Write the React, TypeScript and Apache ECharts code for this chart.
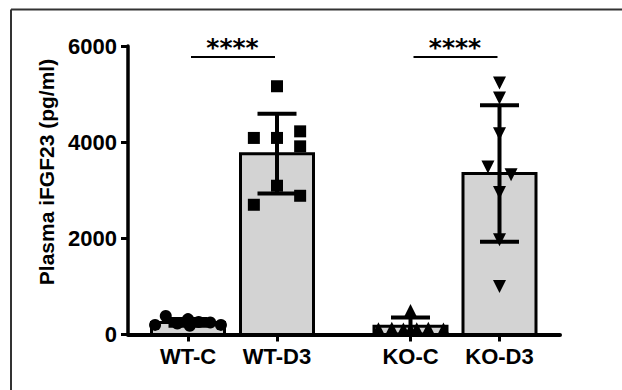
import React, { useEffect, useRef } from "react";
import * as echarts from "echarts";

// ---- data ----
const groups = ["WT-C", "WT-D3", "KO-C", "KO-D3"];
const groupPositions = [1, 2, 3.5, 4.5];
const means = [250, 3760, 170, 3350];
const sds = [70, 830, 185, 1420];

const wtCValues = [200, 385, 230, 320, 180, 260, 250, 200];
const wtCOffsets = [-0.37, -0.25, -0.12, 0, 0.02, 0.12, 0.25, 0.37];
const wtD3Values = [5163, 4088, 4088, 4225, 3913, 3094, 2885, 2698];
const wtD3Offsets = [0, -0.26, 0, 0.26, 0.26, 0, 0.26, -0.26];
const koCValues = [120, 130, 115, 500, 120, 130, 115, 100];
const koCOffsets = [-0.36, -0.21, -0.08, 0, 0.07, 0.2, 0.37, 0.0];
const koD3Values = [5233, 4921, 4177, 3483, 3323, 2954, 1969, 996];
const koD3Offsets = [0, 0, 0, -0.13, 0.13, 0, 0, 0];

const yTicks = [0, 2000, 4000, 6000];
const sigFrom = [0, 2];
const sigTo = [1, 3];
const sigLevel = [5770, 5770];
const sigLabels = ["****", "****"];

const FONT = "'Liberation Sans', Arial, sans-serif";

export default function App() {
  const ref = useRef<HTMLDivElement>(null);
  useEffect(() => {
    if (!ref.current) return;
    const chart = echarts.init(ref.current, undefined, { renderer: "svg" });

    const toPoints = (vals: number[], offs: number[], gi: number) =>
      vals.map((v, i) => [groupPositions[gi] + offs[i], v]);

    const barData = groupPositions.map((p, i) => [p, means[i]]);
    const errData = groupPositions.map((p, i) => [p, means[i], sds[i]]);
    const sigData = sigFrom.map((f, i) => [groupPositions[f], groupPositions[sigTo[i]], sigLevel[i], i]);

    const scatterCommon = {
      type: "scatter",
      z: 3,
      itemStyle: { color: "#000", opacity: 1 },
      silent: true,
    };

    const option: any = {
      animation: false,
      backgroundColor: "#fff",
      grid: { left: 128, right: 62, top: 46, bottom: 55.5, containLabel: false },
      xAxis: {
        type: "value",
        min: 0.3258,
        max: 5.1798,
        splitLine: { show: false },
        axisLine: { show: true, onZero: false, lineStyle: { color: "#000", width: 4 } },
        axisTick: {
          show: true,
          customValues: groupPositions,
          length: 7,
          lineStyle: { color: "#000", width: 3 },
        },
        axisLabel: {
          show: true,
          customValues: groupPositions,
          margin: 11,
          color: "#000",
          fontFamily: FONT,
          fontWeight: "bold",
          fontSize: 22,
          formatter: (v: number) => {
            const idx = groupPositions.findIndex((p) => Math.abs(p - v) < 1e-6);
            return idx >= 0 ? groups[idx] : "";
          },
        },
      },
      yAxis: {
        type: "value",
        min: yTicks[0],
        max: yTicks[yTicks.length - 1],
        interval: yTicks[1] - yTicks[0],
        splitLine: { show: false },
        axisLine: { show: true, lineStyle: { color: "#000", width: 3.5 } },
        axisTick: { show: true, length: 7, lineStyle: { color: "#000", width: 3 } },
        axisLabel: {
          margin: 11,
          color: "#000",
          fontFamily: FONT,
          fontWeight: "bold",
          fontSize: 22,
          formatter: (v: number) => String(v),
        },
      },
      graphic: [
        {
          type: "line",
          shape: { x1: 11, y1: 9.5, x2: 11, y2: 390 },
          style: { stroke: "#333", lineWidth: 2 },
        },
        {
          type: "line",
          shape: { x1: 11, y1: 9.5, x2: 622, y2: 9.5 },
          style: { stroke: "#333", lineWidth: 2 },
        },
        {
          type: "text",
          x: 46,
          y: 172,
          rotation: Math.PI / 2,
          style: {
            text: "Plasma iFGF23 (pg/ml)",
            fill: "#000",
            font: `bold 21px ${FONT}`,
            align: "center",
            verticalAlign: "middle",
          },
        },
      ],
      series: [
        {
          type: "custom",
          z: 1,
          silent: true,
          data: barData,
          renderItem: (params: any, api: any) => {
            const x = api.value(0);
            const y = api.value(1);
            const top = api.coord([x, y]);
            const base = api.coord([x, 0]);
            return {
              type: "rect",
              shape: { x: top[0] - 36.5, y: top[1], width: 73, height: base[1] - top[1] },
              style: { fill: "#d3d3d3", stroke: "#000", lineWidth: 3 },
            };
          },
        },
        { ...scatterCommon, symbol: "circle", symbolSize: 12, data: toPoints(wtCValues, wtCOffsets, 0) },
        { ...scatterCommon, symbol: "rect", symbolSize: 12, data: toPoints(wtD3Values, wtD3Offsets, 1) },
        { ...scatterCommon, symbol: "triangle", symbolSize: 13, data: toPoints(koCValues, koCOffsets, 2) },
        {
          ...scatterCommon,
          symbol: "triangle",
          symbolRotate: 180,
          symbolSize: 13,
          data: toPoints(koD3Values, koD3Offsets, 3),
        },
        {
          type: "custom",
          z: 4,
          silent: true,
          data: errData,
          renderItem: (params: any, api: any) => {
            const x = api.value(0);
            const m = api.value(1);
            const s = api.value(2);
            const hi = api.coord([x, m + s]);
            const lo = api.coord([x, Math.max(0, m - s)]);
            const st = { stroke: "#000", lineWidth: 4 };
            return {
              type: "group",
              children: [
                { type: "line", shape: { x1: hi[0], y1: hi[1], x2: lo[0], y2: lo[1] }, style: st },
                { type: "line", shape: { x1: hi[0] - 19.5, y1: hi[1], x2: hi[0] + 19.5, y2: hi[1] }, style: st },
                { type: "line", shape: { x1: lo[0] - 19.5, y1: lo[1], x2: lo[0] + 19.5, y2: lo[1] }, style: st },
              ],
            };
          },
        },
        {
          type: "custom",
          z: 5,
          silent: true,
          data: sigData,
          renderItem: (params: any, api: any) => {
            const a = api.coord([api.value(0), api.value(2)]);
            const b = api.coord([api.value(1), api.value(2)]);
            const label = sigLabels[api.value(3)];
            return {
              type: "group",
              children: [
                {
                  type: "line",
                  shape: { x1: a[0] + 3, y1: a[1], x2: b[0] - 2, y2: b[1] },
                  style: { stroke: "#000", lineWidth: 2 },
                },
                {
                  type: "text",
                  style: {
                    text: label,
                    x: (a[0] + b[0]) / 2,
                    y: a[1] - 10,
                    align: "center",
                    verticalAlign: "middle",
                    fill: "#000",
                    font: "bold 25px 'DejaVu Sans', sans-serif",
                  },
                },
              ],
            };
          },
        },
      ],
    };

    chart.setOption(option);
    return () => chart.dispose();
  }, []);

  return (
    <div
      ref={ref}
      style={{ position: "fixed", left: 0, top: 0, width: 622, height: 390, background: "#fff" }}
    />
  );
}
